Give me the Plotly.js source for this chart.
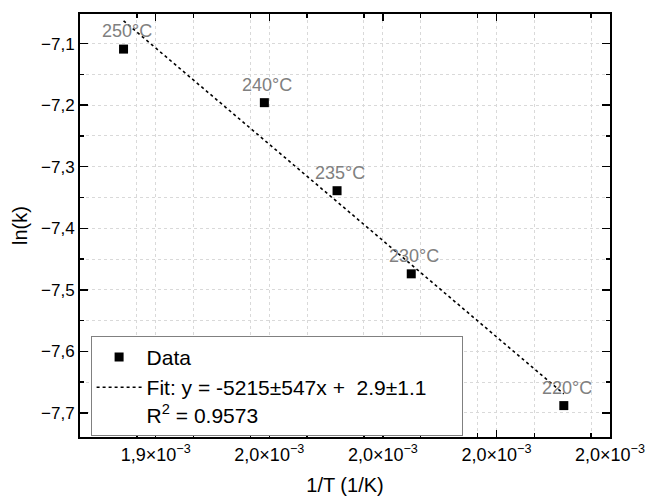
<!DOCTYPE html>
<html>
<head>
<meta charset="utf-8">
<script src="https://cdn.plot.ly/plotly-3.0.1.min.js"></script>
<style>
  html, body { margin: 0; padding: 0; background: #fff; }
  #chart { width: 646px; height: 497px; }
</style>
</head>
<body>
<div id="chart"></div>
<script>
// Data: 1/T (1/K) and ln(k)
const tempLabels = ["250°C", "240°C", "235°C", "230°C", "220°C"];
const invT = [0.0019115, 0.0019487, 0.0019679, 0.0019875, 0.0020278];
const lnK = [-7.109, -7.196, -7.339, -7.474, -7.688];

// Linear fit line
const fitX = [0.0019115, 0.0020278];
const fitY = [-7.063, -7.669];

// Axis ticks
const xTickVals = [0.00192, 0.00195, 0.00198, 0.00201, 0.00204];
const xTickText = ["1,9×10<sup>−3</sup>", "2,0×10<sup>−3</sup>", "2,0×10<sup>−3</sup>", "2,0×10<sup>−3</sup>", "2,0×10<sup>−3</sup>"];

const legendNames = ["Data", "Fit: y = -5215±547x +\u00a0\u00a02.9±1.1", "R<sup>2</sup> = 0.9573"];

const font = "Liberation Sans, Arial, sans-serif";
const gridColor = "#d9d9d9";
const pad = "\u00a0\u00a0\u00a0\u00a0\u00a0";

const traces = [
  {
    x: invT, y: lnK, type: "scatter", mode: "markers",
    name: legendNames[0],
    marker: { symbol: "square", size: 9, color: "#000" }
  },
  {
    x: fitX, y: fitY, type: "scatter", mode: "lines",
    name: legendNames[1] + pad + "<br>" + legendNames[2],
    line: { color: "#000", width: 1.6, dash: "dot" }
  }
];

const annotations = invT.map((xv, i) => ({
  x: xv, y: lnK[i], xref: "x", yref: "y",
  text: tempLabels[i], showarrow: false,
  xshift: 3, yshift: 18,
  font: { family: font, size: 18, color: "#808080" }
}));

const layout = {
  width: 646, height: 497,
  margin: { l: 80, r: 36, t: 14, b: 60 },
  paper_bgcolor: "#fff", plot_bgcolor: "#fff",
  separators: ",.",
  font: { family: font, size: 17, color: "#000" },
  showlegend: true,
  legend: {
    x: 0.02, y: 0.003, xanchor: "left", yanchor: "bottom",
    bgcolor: "#fff", bordercolor: "#808080", borderwidth: 1,
    font: { family: font, size: 21, color: "#000" },
    valign: "top", itemwidth: 45
  },
  xaxis: {
    range: [0.0019, 0.00204],
    tickmode: "array", tickvals: xTickVals, ticktext: xTickText,
    ticks: "inside", ticklen: 7, tickwidth: 1.5, tickcolor: "#000",
    showline: true, linewidth: 2, linecolor: "#000", mirror: "ticks",
    showgrid: true, gridcolor: gridColor, griddash: "dot", gridwidth: 1,
    zeroline: false,
    tickfont: { family: font, size: 18, color: "#000" },
    minor: { tick0: 0.0019, dtick: 0.000015, ticks: "inside", ticklen: 4, tickwidth: 1.5, tickcolor: "#000", showgrid: true, gridcolor: gridColor, griddash: "dot", gridwidth: 1 },
    title: { text: "1/T (1/K)", font: { family: font, size: 20, color: "#000" }, standoff: 14 }
  },
  yaxis: {
    range: [-7.739, -7.052],
    tick0: -7.1, dtick: 0.1, tickformat: ".1f",
    ticks: "inside", ticklen: 8, tickwidth: 1.5, tickcolor: "#000",
    showline: true, linewidth: 2, linecolor: "#000", mirror: "ticks",
    showgrid: true, gridcolor: gridColor, griddash: "dot", gridwidth: 1,
    zeroline: false,
    tickfont: { family: font, size: 17, color: "#000" },
    minor: { dtick: 0.05, ticks: "inside", ticklen: 4, tickwidth: 1.5, tickcolor: "#000", showgrid: true, gridcolor: gridColor, griddash: "dot", gridwidth: 1 },
    title: { text: "ln(k)", font: { family: font, size: 20, color: "#000" }, standoff: 8 }
  },
  annotations: annotations
};

Plotly.newPlot("chart", traces, layout, { displayModeBar: false, staticPlot: true });
</script>
</body>
</html>
